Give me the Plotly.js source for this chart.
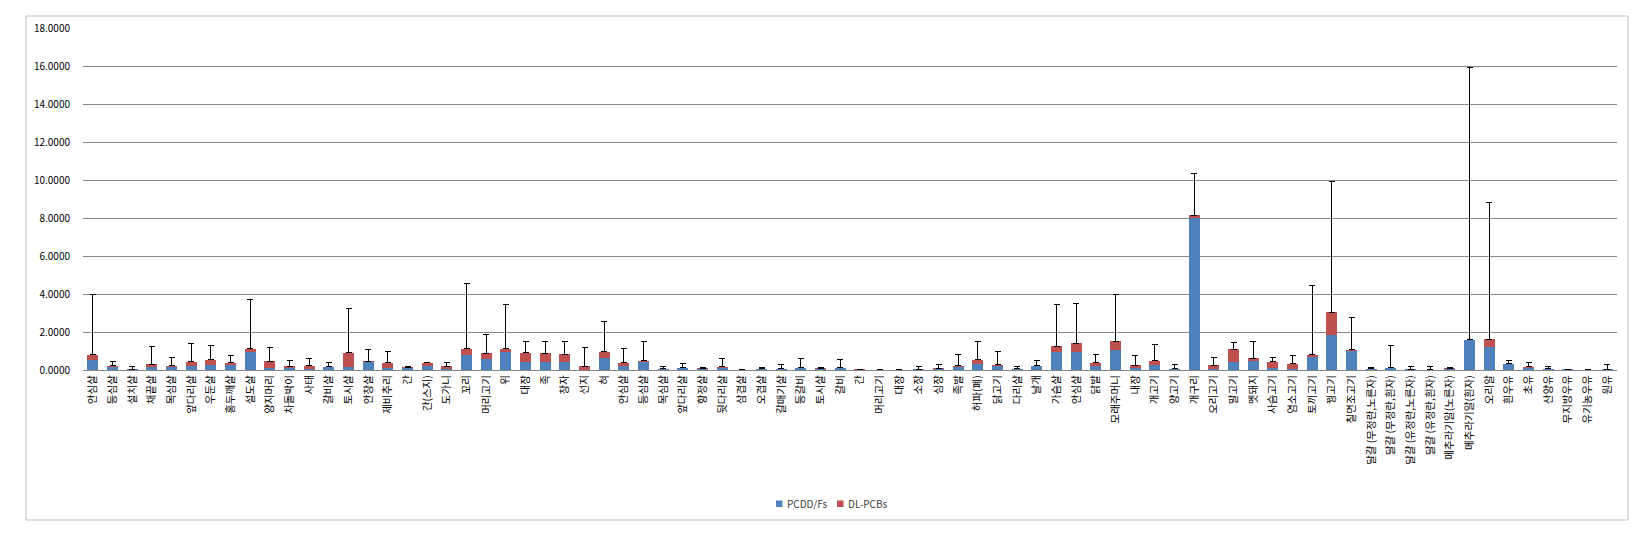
<!DOCTYPE html>
<html>
<head>
<meta charset="utf-8">
<script src="https://cdn.plot.ly/plotly-3.0.1.min.js"></script>
<style>
html,body{margin:0;padding:0;background:#fff;}
#chart{width:1652px;height:538px;}
</style>
</head>
<body>
<div id="chart"></div>
<script>
const categories = [
  "안심살","등심살","설치살","채끝살","목심살","앞다리살","우둔살","홍두깨살","설도살","양지머리",
  "차돌박이","사태","갈비살","토시살","안창살","제비추리","간","간(스지)","도가니","꼬리",
  "머리고기","위","대장","족","창자","선지","혀","안심살","등심살","목심살",
  "앞다리살","항정살","뒷다리살","삼겹살","오겹살","갈매기살","등갈비","토시살","갈비","간",
  "머리고기","대장","소장","심장","족발","허파(폐)","닭고기","다리살","날개","가슴살",
  "안심살","닭발","모래주머니","내장","개고기","양고기","개구리","오리고기","말고기","멧돼지",
  "사슴고기","염소고기","토끼고기","꿩고기","칠면조고기","달걀 (무정란,노른자)","달걀 (무정란,흰자)","달걀 (유정란,노른자)","달걀 (유정란,흰자)","메추라기알(노른자)",
  "메추라기알(흰자)","오리알","흰우유","초유","산양유","무지방우유","유기농우유","원유"
];

const pcddfs = [
  0.55,0.18,0.03,0.15,0.18,0.22,0.25,0.25,0.94,0.10,
  0.08,0.03,0.15,0.18,0.43,0.08,0.08,0.20,0.05,0.78,
  0.57,0.94,0.41,0.42,0.41,0.02,0.64,0.20,0.43,0.05,
  0.09,0.06,0.12,0.01,0.05,0.05,0.10,0.06,0.09,0.01,
  0.01,0.01,0.03,0.06,0.18,0.32,0.22,0.05,0.20,0.96,
  0.96,0.20,1.07,0.12,0.25,0.05,8.00,0.05,0.41,0.46,
  0.10,0.05,0.70,1.86,1.00,0.05,0.09,0.03,0.01,0.06,
  1.58,1.20,0.30,0.12,0.05,0.03,0.005,0.04
];

const dlpcbs = [
  0.25,0.05,0.02,0.15,0.05,0.22,0.28,0.14,0.19,0.36,
  0.13,0.20,0.03,0.74,0.03,0.31,0.06,0.17,0.14,0.35,
  0.30,0.19,0.49,0.45,0.42,0.19,0.32,0.17,0.07,0.02,
  0.03,0.03,0.04,0.01,0.02,0.02,0.02,0.03,0.03,0.02,
  0.01,0.01,0.02,0.03,0.05,0.21,0.05,0.02,0.03,0.30,
  0.45,0.19,0.45,0.13,0.23,0.02,0.15,0.20,0.69,0.16,
  0.34,0.27,0.10,1.17,0.07,0.02,0.03,0.02,0.01,0.03,
  0.02,0.43,0.04,0.04,0.02,0.01,0.005,0.01
];

const errorPlus = [
  3.16,0.21,0.11,0.92,0.41,0.94,0.74,0.35,2.59,0.71,
  0.27,0.35,0.19,2.30,0.60,0.57,0.02,0.05,0.23,3.44,
  0.99,2.32,0.60,0.63,0.67,0.96,1.59,0.74,1.00,0.14,
  0.20,0.02,0.42,0.02,0.04,0.20,0.46,0.02,0.41,0.01,
  0.01,0.01,0.11,0.18,0.57,0.97,0.69,0.14,0.25,2.19,
  2.07,0.41,2.46,0.50,0.86,0.20,2.20,0.43,0.35,0.88,
  0.24,0.43,3.63,6.90,1.71,0.04,1.15,0.14,0.14,0.02,
  14.30,7.17,0.14,0.21,0.09,0.01,0.00,0.25
];

const yTicks = [0,2,4,6,8,10,12,14,16,18];
const seriesNames = ['PCDD/Fs','DL-PCBs'];
const seriesColors = ['#4F81BD','#C0504D'];

const idx = categories.map((c,i)=>i);
const FONT = '"Noto Sans CJK KR","Noto Sans",sans-serif';

const traces = [
  {
    type:'bar', name:seriesNames[0], x: idx, y: pcddfs,
    marker:{color:seriesColors[0]}, hoverinfo:'skip'
  },
  {
    type:'bar', name:seriesNames[1], x: idx, y: dlpcbs,
    marker:{color:seriesColors[1]}, hoverinfo:'skip',
    error_y:{type:'data', symmetric:false, array: errorPlus, arrayminus: errorPlus.map(()=>0),
             color:'#000000', thickness:1, width:3}
  }
];

// custom compact legend (paper coords relative to plot area)
const px = X => (X-83)/1534;
const py = Y => (370-Y)/342;
const legendSw = [776, 837];
const legendShapes = legendSw.map((x0,i)=>({
  type:'rect', xref:'paper', yref:'paper',
  x0:px(x0), x1:px(x0+6.5), y0:py(507), y1:py(500.5),
  line:{width:0}, fillcolor:seriesColors[i]
}));
const legendAnn = legendSw.map((x0,i)=>({
  xref:'paper', yref:'paper', x:px(x0+8.5), y:py(503.5), xanchor:'left', yanchor:'middle',
  text:seriesNames[i], showarrow:false, font:{family:FONT, size:10, color:'#404040'}
}));

const layout = {
  width:1652, height:538,
  margin:{l:83, r:35, t:28, b:168},
  paper_bgcolor:'#ffffff', plot_bgcolor:'#ffffff',
  barmode:'stack', bargap:0.44,
  showlegend:false,
  xaxis:{
    tickmode:'array', tickvals: idx, ticktext: categories,
    tickangle:-90, tickfont:{family:FONT, size:10.5, color:'#000000'},
    range:[-0.5, categories.length-0.5],
    showgrid:false, showline:true, linecolor:'#868686', linewidth:1,
    ticks:'', zeroline:false, automargin:false
  },
  yaxis:{
    range:[0,18], tickmode:'array', tickvals:yTicks,
    tickformat:'.4f', tickfont:{family:FONT, size:10, color:'#000000'},
    showgrid:true, gridcolor:'#868686', gridwidth:1,
    showline:false, zeroline:false, ticks:'', ticklabelstandoff:12, automargin:false
  },
  annotations: legendAnn,
  shapes:[
    {type:'rect', xref:'paper', yref:'paper', x0:px(26), x1:px(1628), y0:py(520), y1:py(16),
     line:{color:'#bfbfbf', width:1}, fillcolor:'rgba(0,0,0,0)', layer:'below'}
  ].concat(legendShapes)
};

Plotly.newPlot('chart', traces, layout, {displayModeBar:false, staticPlot:true});
</script>
</body>
</html>
